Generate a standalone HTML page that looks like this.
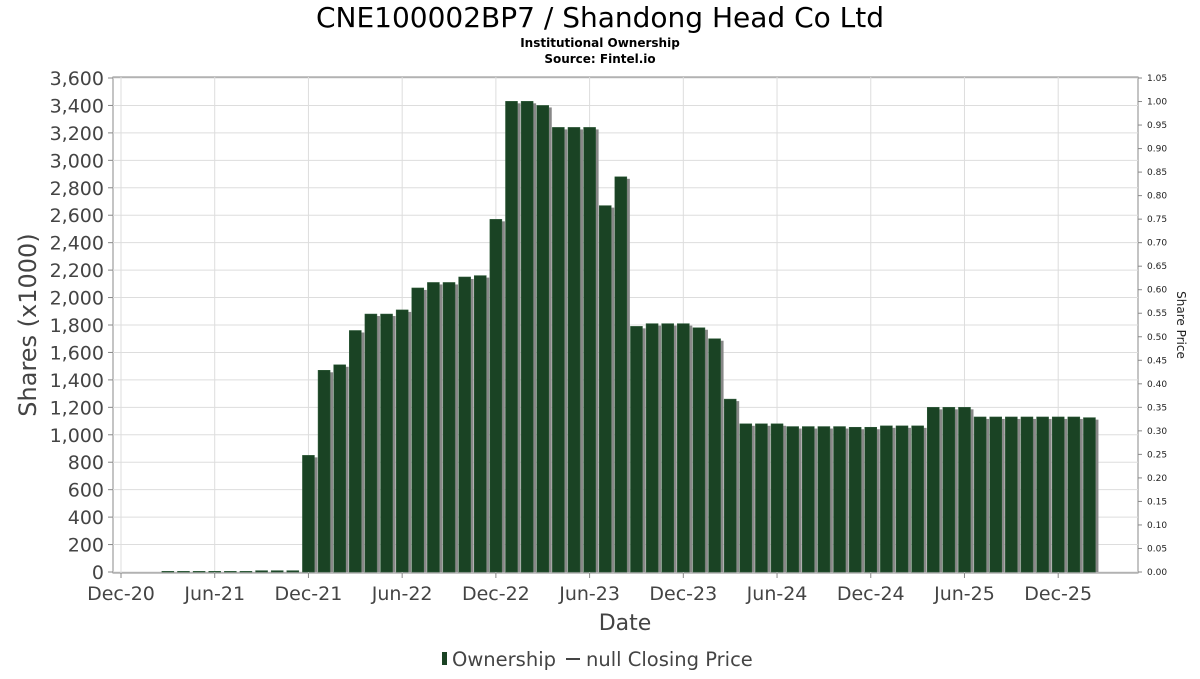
<!DOCTYPE html>
<html><head><meta charset="utf-8"><style>
body{margin:0;background:#fff;font-family:"DejaVu Sans","Liberation Sans",sans-serif;}
svg text{font-family:"DejaVu Sans","Liberation Sans",sans-serif;}
</style></head><body>
<svg id="chart" width="1200" height="675" viewBox="0 0 1200 675">
<text x="600" y="27" text-anchor="middle" font-size="28" fill="#000">CNE100002BP7 / Shandong Head Co Ltd</text>
<text x="600" y="47" text-anchor="middle" font-size="12" font-weight="bold">Institutional Ownership</text>
<text x="600" y="63" text-anchor="middle" font-size="12" font-weight="bold">Source: Fintel.io</text>
<rect x="113" y="77" width="1025" height="496" fill="#fff" stroke="#888"/>
<g id="grid"></g>
<g id="bars"></g>
<g id="axes"></g>
<text transform="translate(36,325) rotate(-90)" text-anchor="middle" font-size="24" fill="#444">Shares (x1000)</text>
<text transform="translate(1177,325) rotate(90)" text-anchor="middle" font-size="12" fill="#222">Share Price</text>
<text x="625" y="630" text-anchor="middle" font-size="22" fill="#444">Date</text>
<g>
<rect x="442" y="652" width="5" height="13" fill="#1a4324"/>
<text x="452" y="666" font-size="19.5" fill="#444">Ownership</text>
<line x1="566" y1="659" x2="580" y2="659" stroke="#444" stroke-width="2"/>
<text x="586" y="666" font-size="19.5" fill="#444">null Closing Price</text>
</g>
</svg>
<script>
const months = [3,4,5,6,7,8,9,10,11,12,13,14,15,16,17,18,19,20,21,22,23,24,25,26,27,28,29,30,31,32,33,34,35,36,37,38,39,40,41,42,43,44,45,46,47,48,49,50,51,52,53,54,55,56,57,58,59,60,61,62];
const ownership = [5,5,5,5,5,5,10,10,10,850,1470,1510,1760,1880,1880,1910,2070,2110,2110,2150,2160,2570,3430,3430,3400,3240,3240,3240,2670,2880,1790,1810,1810,1810,1780,1700,1260,1080,1080,1080,1060,1060,1060,1060,1055,1055,1065,1065,1065,1200,1200,1200,1130,1130,1130,1130,1130,1130,1130,1125];
const leftTicks = [0,200,400,600,800,1000,1200,1400,1600,1800,2000,2200,2400,2600,2800,3000,3200,3400,3600];
const rightTicks = [0,0.05,0.1,0.15,0.2,0.25,0.3,0.35,0.4,0.45,0.5,0.55,0.6,0.65,0.7,0.75,0.8,0.85,0.9,0.95,1.0,1.05];
const xLabels = ["Dec-20","Jun-21","Dec-21","Jun-22","Dec-22","Jun-23","Dec-23","Jun-24","Dec-24","Jun-25","Dec-25"];
const xLabelMonths = [0,6,12,18,24,30,36,42,48,54,60];
const NS="http://www.w3.org/2000/svg";
const X0=121, PXM=15.62, Y0=572, YT=78;
function xs(m){return X0+m*PXM;}
function yl(v){return Y0-(v/3600)*(Y0-YT);}
function yr(v){return Y0-(v/1.05)*(Y0-YT);}
function mk(tag,attrs,parent){const e=document.createElementNS(NS,tag);for(const k in attrs)e.setAttribute(k,attrs[k]);parent.appendChild(e);return e;}
const grid=document.getElementById('grid'), bars=document.getElementById('bars'), axes=document.getElementById('axes');
leftTicks.forEach(v=>{
  const y=yl(v);
  const g=mk('line',{x1:113,x2:1138,y1:y,y2:y,stroke:'#ddd'},grid);
  
  
  const t=mk('text',{x:104,y:y+7,'text-anchor':'end','font-size':19,fill:'#444'},axes);
  t.textContent=v.toLocaleString('en-US');
  
  
  mk('line',{x1:108,x2:113,y1:y,y2:y,stroke:'#888'},axes);
});
rightTicks.forEach(v=>{
  const y=yr(v);
  mk('line',{x1:1138,x2:1142,y1:y,y2:y,stroke:'#888'},axes);
  const t=mk('text',{x:1147,y:y+3,'font-size':9,fill:'#222'},axes);
  t.textContent=v.toFixed(2);
  
  
});
xLabelMonths.forEach((m,i)=>{
  const x=xs(m);
  const g=mk('line',{x1:x,x2:x,y1:77,y2:573,stroke:'#ddd'},grid);
  
  
  mk('line',{x1:x,x2:x,y1:573,y2:578,stroke:'#888'},axes);
  const t=mk('text',{x:x,y:600,'text-anchor':'middle','font-size':19,fill:'#444'},axes);
  t.textContent=xLabels[i];
  
  
});
months.forEach((m,i)=>{
  const x=xs(m)-6, y=yl(ownership[i]), h=Y0-y;
  const s=mk('rect',{x:x+3,y:y+2,width:12,height:Math.max(h-2,0),fill:'#888'},bars);
  
  
  const b=mk('rect',{x:x,y:y,width:12,height:h,fill:'#1a4324',stroke:'#2d5a38','stroke-width':0.5},bars);
  
  
});
</script>
</body></html>
